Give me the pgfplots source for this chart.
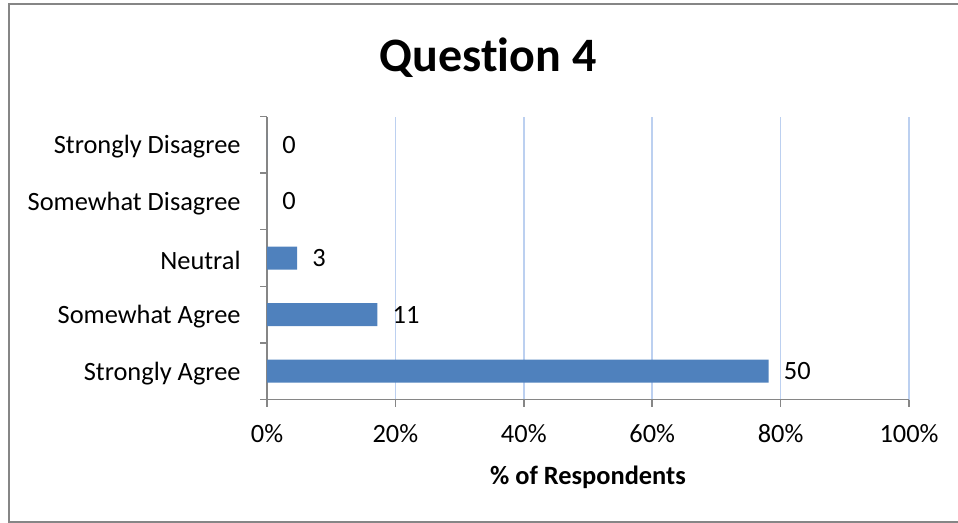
\documentclass[border=0pt]{standalone}
\usepackage{pgfplots}
\pgfplotsset{compat=1.18}
\usepackage{fontspec}
\setmainfont{Carlito}[Ligatures={NoCommon}, RawFeature={-liga;-clig;-dlig}]
\definecolor{barblue}{RGB}{79,129,189}
\definecolor{gridblue}{RGB}{188,208,240}
\definecolor{axisgray}{RGB}{134,134,134}
\pgfplotstableread{
pos pct n
0 78.125 50
1 17.1875 11
2 4.6875 3
3 0 0
4 0 0
}\datatable
\begin{document}
\fontsize{13.2}{15}\selectfont
\begin{tikzpicture}
\useasboundingbox (0pt,0pt) rectangle (479pt,-261.5pt);
\draw[axisgray, line width=1pt] (4.25pt,-2.25pt) rectangle (490pt,-260.75pt);
\node[font=\fontsize{24}{28}\selectfont\bfseries, anchor=base] at (244pt,-35.75pt) {Quest\kern0pt ion 4};
\begin{axis}[
  at={(133.5pt,-199.75pt)}, anchor=south west,
  scale only axis, width=321pt, height=141.5pt,
  xbar, bar width=11.5pt,
  xmin=0, xmax=100, ymin=-0.5, ymax=4.5,
  axis x line*=bottom, axis y line*=left,
  axis line style={axisgray, line width=0.75pt},
  /pgf/number format/assume math mode=true,
  xtick={0,20,...,100},
  xticklabel={\pgfmathprintnumber{\tick}\%},
  xticklabel style={font=\fontsize{13.2}{15}\selectfont, inner sep=0pt, anchor=north, yshift=-8.75pt},
  ytick={-0.5,0.5,...,4.5}, yticklabels={},
  extra y ticks={0,1,2,3,4},
  extra y tick labels={Strongly Agree,Somewhat Agree,Neutral,Somewhat Disagree,Strongly Disagree},
  extra y tick style={major tick length=0pt, yticklabel style={font=\fontsize{13.2}{15}\selectfont, inner sep=0pt, anchor=east, xshift=-13pt, yshift=-1pt}, grid=none},
  tick align=outside, major tick length=3.5pt,
  tick style={axisgray, line width=0.75pt},
  xmajorgrids, major grid style={gridblue, line width=0.75pt},
  xlabel={\bfseries \% of Respondents},
  xlabel style={font=\fontsize{13.2}{15}\selectfont, at={(axis description cs:0.5,0)}, anchor=base, yshift=-42.25pt, inner sep=0pt},
  clip=false,
]
\addplot[fill=barblue, draw=none, nodes near coords, point meta=explicit symbolic,
  nodes near coords style={font=\fontsize{13.2}{15}\selectfont, anchor=west, inner sep=0pt, xshift=7.5pt, text=black}]
  table[x=pct, y=pos, meta=n] {\datatable};
\end{axis}
\end{tikzpicture}
\end{document}
